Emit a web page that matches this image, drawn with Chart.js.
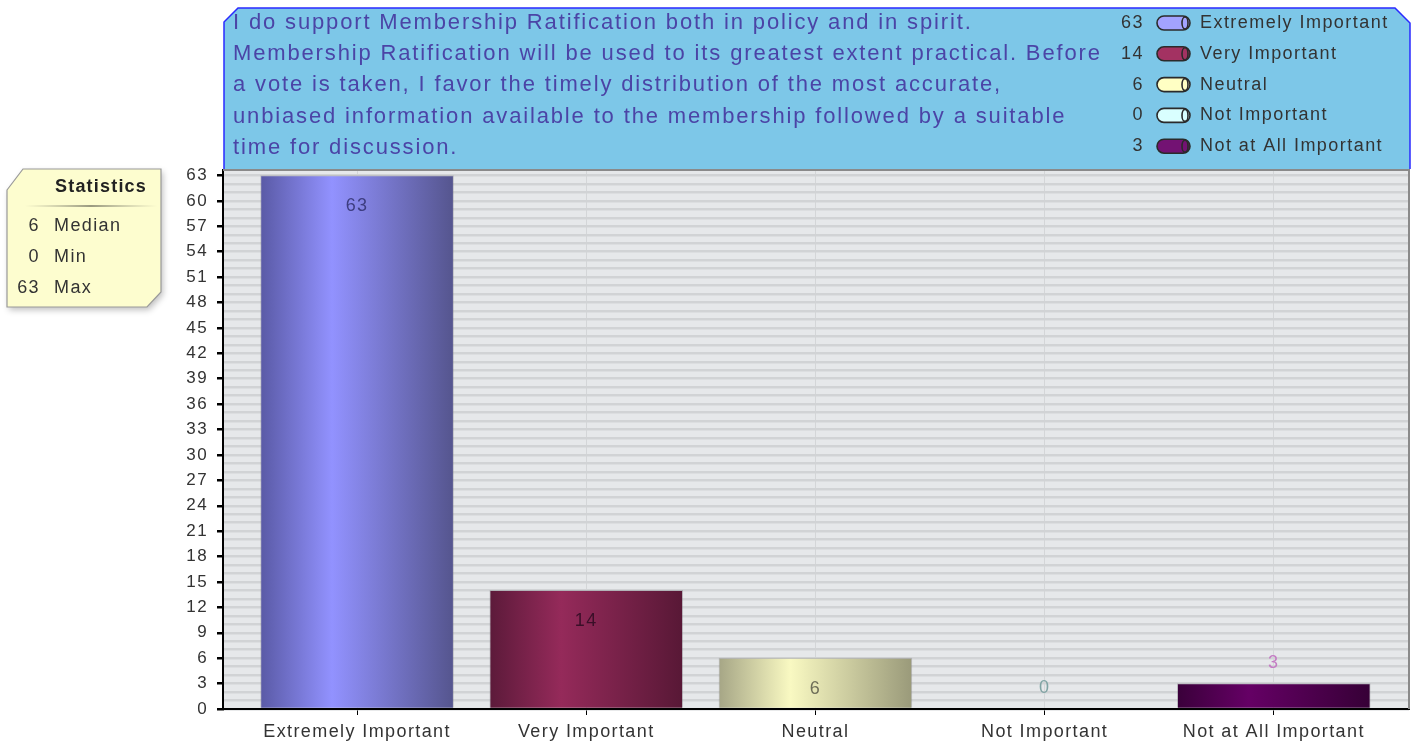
<!DOCTYPE html>
<html>
<head>
<meta charset="utf-8">
<script src="https://cdn.jsdelivr.net/npm/chart.js@4.4.1/dist/chart.umd.min.js"></script>
<style>
    body { margin: 0; background: #fff; }
    canvas { display: block; }
</style>
</head>
<body>
<canvas id="surveyChart" width="1419" height="746"></canvas>
<script>
var categories = ["Extremely Important", "Very Important", "Neutral", "Not Important", "Not at All Important"];
var responses = [63, 14, 6, 0, 3];
var yTickLabels = [0, 3, 6, 9, 12, 15, 18, 21, 24, 27, 30, 33, 36, 39, 42, 45, 48, 51, 54, 57, 60, 63];
var statNames = ["Median", "Min", "Max"];
var statValues = [6, 0, 63];
var questionLines = [
    "I do support Membership Ratification both in policy and in spirit.",
    "Membership Ratification will be used to its greatest extent practical. Before",
    "a vote is taken, I favor the timely distribution of the most accurate,",
    "unbiased information available to the membership followed by a suitable",
    "time for discussion."
];

// colours: [left edge, highlight, right edge]
var barShades = [
    ["#5a5aa6", "#9292ff", "#55558e"],
    ["#5c1a3a", "#952a5a", "#581836"],
    ["#a6a686", "#f9f9c2", "#9a9a7a"],
    ["#8fb3b3", "#d8ffff", "#88aaaa"],
    ["#3a003a", "#650065", "#360036"]
];
var legendFill = ["#a3a3ff", "#a33262", "#ffffc4", "#d9ffff", "#731273"];
var labelColors = ["#3d3d80", "#3a0f28", "#6e6e58", "#7fa3a3", "#c47cc4"];
var FONT = "'Liberation Sans', Arial, sans-serif";

var gridValues = [];
for (var g = 0; g <= 63; g++) gridValues.push(g);

function barGradient(context) {
    var chart = context.chart;
    if (!chart.chartArea) return barShades[context.dataIndex][1];
    var cx = chart.scales.x.getPixelForValue(context.dataIndex);
    var half = 96.5;
    var grad = chart.ctx.createLinearGradient(cx - half, 0, cx + half, 0);
    var s = barShades[context.dataIndex];
    grad.addColorStop(0, s[0]);
    grad.addColorStop(0.37, s[1]);
    grad.addColorStop(1, s[2]);
    return grad;
}

var framePlugin = {
    id: 'frame',
    beforeDraw: function (chart) {
        var ctx = chart.ctx, a = chart.chartArea;
        ctx.letterSpacing = '1.4px';
        ctx.save();
        ctx.fillStyle = '#e6e8ea';
        ctx.fillRect(a.left, a.top, a.right - a.left, a.bottom - a.top);
        ctx.restore();
    },
    afterDatasetsDraw: function (chart) {
        var ctx = chart.ctx;
        var meta = chart.getDatasetMeta(0);
        ctx.save();
        ctx.font = '18px ' + FONT;
        ctx.textAlign = 'center';
        ctx.textBaseline = 'middle';
        meta.data.forEach(function (bar, i) {
            var v = responses[i];
            var y = v >= 5 ? bar.y + 31 : bar.y - 21;
            ctx.fillStyle = labelColors[i];
            ctx.fillText(String(v), bar.x, y);
        });
        ctx.restore();
    },
    afterDraw: function (chart) {
        var ctx = chart.ctx, a = chart.chartArea;
        ctx.save();
        // plot frame top / right
        ctx.strokeStyle = '#8a8a8a';
        ctx.lineWidth = 2;
        ctx.beginPath();
        ctx.moveTo(a.left, a.top);
        ctx.lineTo(a.right, a.top);
        ctx.lineTo(a.right, a.bottom);
        ctx.stroke();

        // question box
        var L = a.left + 1, R = a.right + 1, T = 8, B = a.top - 1;
        ctx.beginPath();
        ctx.moveTo(L, T + 14);
        ctx.lineTo(L + 14, T);
        ctx.lineTo(R - 15, T);
        ctx.lineTo(R, T + 15);
        ctx.lineTo(R, B);
        ctx.lineTo(L, B);
        ctx.closePath();
        ctx.fillStyle = '#7dc7e8';
        ctx.fill();
        ctx.beginPath();
        ctx.moveTo(L, B);
        ctx.lineTo(L, T + 14);
        ctx.lineTo(L + 14, T);
        ctx.lineTo(R - 15, T);
        ctx.lineTo(R, T + 15);
        ctx.lineTo(R, B);
        ctx.strokeStyle = '#2a2aff';
        ctx.lineWidth = 1.5;
        ctx.stroke();

        ctx.font = '22px ' + FONT;
        ctx.letterSpacing = '1.85px';
        ctx.fillStyle = '#4b44a6';
        ctx.textAlign = 'left';
        ctx.textBaseline = 'middle';
        questionLines.forEach(function (line, i) {
            ctx.fillText(line, 233, 23 + i * 31.2);
        });

        // legend
        ctx.font = '18px ' + FONT;
        ctx.letterSpacing = '1.45px';
        categories.forEach(function (name, i) {
            var y = 23 + i * 30.8;
            ctx.fillStyle = '#333';
            ctx.textAlign = 'right';
            ctx.fillText(String(responses[i]), 1144, y);
            ctx.textAlign = 'left';
            ctx.fillText(name, 1200, y);
            var x0 = 1157, w = 33, h = 14, r = 7;
            ctx.beginPath();
            ctx.roundRect(x0, y - h / 2, w, h, r);
            ctx.fillStyle = legendFill[i];
            ctx.fill();
            ctx.strokeStyle = '#2b2b2b';
            ctx.lineWidth = 1.6;
            ctx.stroke();
            ctx.beginPath();
            ctx.ellipse(x0 + w - 5, y, 3, h / 2 - 1, 0, 0, Math.PI * 2);
            ctx.stroke();
        });

        // statistics box
        ctx.save();
        ctx.shadowColor = 'rgba(0,0,0,0.25)';
        ctx.shadowBlur = 6;
        ctx.shadowOffsetX = 2;
        ctx.shadowOffsetY = 3;
        ctx.beginPath();
        ctx.moveTo(7, 190);
        ctx.lineTo(23, 169);
        ctx.lineTo(161, 169);
        ctx.lineTo(161, 292);
        ctx.lineTo(147, 307);
        ctx.lineTo(7, 307);
        ctx.closePath();
        ctx.fillStyle = '#fdfdcf';
        ctx.fill();
        ctx.restore();
        ctx.strokeStyle = '#999';
        ctx.lineWidth = 1.2;
        ctx.stroke();

        ctx.font = 'bold 18px ' + FONT;
        ctx.letterSpacing = '1.2px';
        ctx.fillStyle = '#222';
        ctx.textAlign = 'center';
        ctx.fillText('Statistics', 101, 187);
        var sg = ctx.createLinearGradient(25, 0, 157, 0);
        sg.addColorStop(0, 'rgba(150,150,130,0)');
        sg.addColorStop(0.5, 'rgba(120,120,100,1)');
        sg.addColorStop(1, 'rgba(150,150,130,0)');
        ctx.strokeStyle = sg;
        ctx.lineWidth = 1.5;
        ctx.beginPath();
        ctx.moveTo(25, 206);
        ctx.lineTo(157, 206);
        ctx.stroke();
        ctx.font = '18px ' + FONT;
        ctx.letterSpacing = '1.4px';
        ctx.fillStyle = '#333';
        statNames.forEach(function (name, i) {
            var y = 226 + i * 31;
            ctx.textAlign = 'right';
            ctx.fillText(String(statValues[i]), 40, y);
            ctx.textAlign = 'left';
            ctx.fillText(name, 54, y);
        });
        ctx.restore();
    }
};

var chart = new Chart(document.getElementById('surveyChart').getContext('2d'), {
    type: 'bar',
    data: {
        datasets: [{
            data: responses.map(function (v, i) { return { x: i, y: v }; }),
            backgroundColor: barGradient,
            borderColor: 'rgba(120,120,130,0.35)',
            borderWidth: 1,
            borderSkipped: 'bottom',
            barThickness: 193
        }]
    },
    options: {
        responsive: false,
        animation: false,
        layout: { padding: { left: 163, top: 170, right: 10, bottom: 0 } },
        plugins: {
            legend: { display: false },
            tooltip: { enabled: false }
        },
        scales: {
            x: {
                type: 'linear',
                offset: false,
                min: -0.585,
                max: 4.59,
                afterBuildTicks: function (scale) {
                    scale.ticks = categories.map(function (c, i) { return { value: i }; });
                },
                afterFit: function (scale) { scale.height = 37; },
                grid: {
                    offset: false,
                    color: '#d4d6d8',
                    lineWidth: 1,
                    tickColor: '#000',
                    tickLength: 6
                },
                border: { color: '#000', width: 2 },
                ticks: {
                    autoSkip: false,
                    maxRotation: 0,
                    padding: 6,
                    color: '#333',
                    font: { family: FONT, size: 18 },
                    callback: function (v) { return categories[v]; }
                }
            },
            y: {
                min: 0,
                max: 63.65,
                afterBuildTicks: function (scale) {
                    scale.ticks = gridValues.map(function (v) { return { value: v }; });
                },
                afterFit: function (scale) { scale.width = 60; },
                grid: {
                    color: '#d1d3d5',
                    lineWidth: 2.5,
                    tickLength: 6,
                    tickColor: function (c) {
                        return c.tick && yTickLabels.indexOf(c.tick.value) >= 0 ? '#000' : 'rgba(0,0,0,0)';
                    }
                },
                border: { color: '#000', width: 2 },
                ticks: {
                    autoSkip: false,
                    padding: 9,
                    color: '#333',
                    font: { family: FONT, size: 17 },
                    callback: function (v) { return yTickLabels.indexOf(v) >= 0 ? String(v) : ''; }
                }
            }
        }
    },
    plugins: [framePlugin]
});
</script>
</body>
</html>
